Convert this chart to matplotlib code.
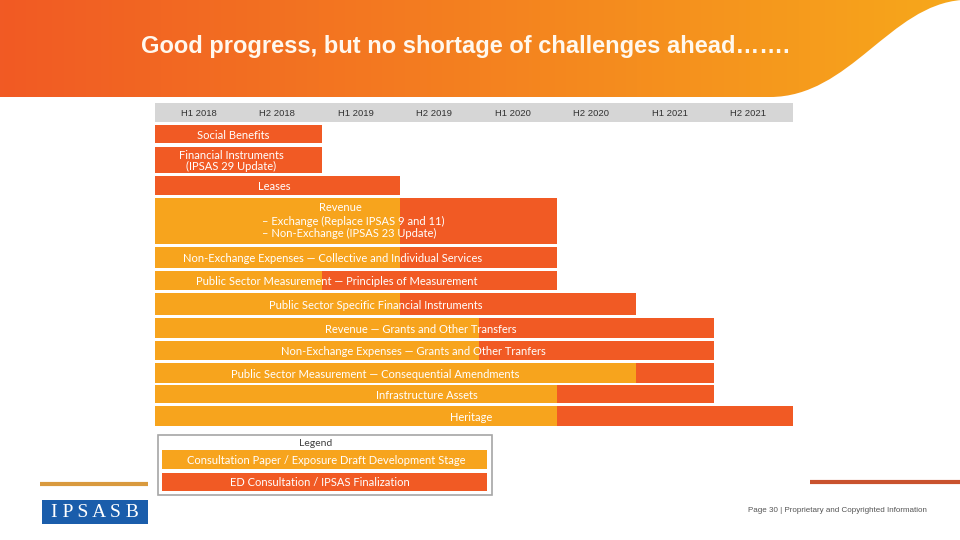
import numpy as np
import matplotlib
matplotlib.use("Agg")
import matplotlib.pyplot as plt
from matplotlib.path import Path
from matplotlib.patches import PathPatch, Rectangle
from matplotlib.colors import LinearSegmentedColormap

# half-year periods shown in the header
periods = ["H1 2018", "H2 2018", "H1 2019", "H2 2019",
           "H1 2020", "H2 2020", "H1 2021", "H2 2021"]

projects = [
    "Social Benefits",
    "Financial Instruments\n(IPSAS 29 Update)",
    "Leases",
    "Revenue",
    "Non-Exchange Expenses \u2014 Collective and Individual Services",
    "Public Sector Measurement \u2014 Principles of Measurement",
    "Public Sector Specific Financial Instruments",
    "Revenue \u2014 Grants and Other Transfers",
    "Non-Exchange Expenses \u2014 Grants and Other Tranfers",
    "Public Sector Measurement \u2014 Consequential Amendments",
    "Infrastructure Assets",
    "Heritage",
]
revenue_sub = "\u2013 Exchange (Replace IPSAS 9 and 11)\n\u2013 Non-Exchange (IPSAS 23 Update)"

# end of consultation paper / ED development stage (in half-years from H1 2018)
cp_end = [0, 0, 0, 3, 3, 2, 3, 4, 4, 6, 5, 5]
# end of ED consultation / IPSAS finalization
final_end = [2, 2, 3, 5, 5, 5, 6, 7, 7, 7, 7, 8]

legend_labels = ["Consultation Paper / Exposure Draft Development Stage",
                 "ED Consultation / IPSAS Finalization"]

# ---- layout / style ----
ORANGE = "#F7A41D"
RED = "#F15A24"
x0 = -0.127  # bars start a little left of the H1 2018 grid line
row_top = [125, 147, 176, 198, 247, 271, 293, 318, 341, 363, 385, 406]
row_bot = [143, 173, 195, 244, 268, 290, 315, 338, 360, 383, 403, 426]
label_x = [0.87, 0.84, 1.39, 2.24, 2.13, 2.19, 2.68, 3.26, 3.17, 2.68, 3.34, 3.90]
bar_font = "Lato"
fs = 8

fig = plt.figure(figsize=(9.6, 5.4), dpi=100)

# background axes in pixel coordinates
bg = fig.add_axes([0, 0, 1, 1])
bg.axis("off")

# gradient title band with curved right edge
verts = [(0, 0), (962, 0), (962, 0), (890, 5), (850, 97), (770, 97), (0, 97), (0, 0)]
codes = [Path.MOVETO, Path.LINETO, Path.LINETO, Path.CURVE4, Path.CURVE4, Path.CURVE4,
         Path.LINETO, Path.CLOSEPOLY]
band = PathPatch(Path(verts, codes), facecolor="none", edgecolor="none")
bg.add_patch(band)
cmap = LinearSegmentedColormap.from_list("band", ["#F15A24", "#F7A81B"])
grad = np.linspace(0, 1, 256).reshape(1, -1)
im = bg.imshow(grad, cmap=cmap, extent=[0, 960, 97, 0], aspect="auto", zorder=0)
im.set_clip_path(band)
bg.set_xlim(0, 960)
bg.set_ylim(540, 0)

bg.text(465, 46, "Good progress, but no shortage of challenges ahead\u2026\u2026.",
        color="#FFF8EE", fontsize=17, fontweight="bold", family="Liberation Sans",
        ha="center", va="center")

# legend box
bg.add_patch(Rectangle((157.5, 435), 334, 60, facecolor="white",
                       edgecolor="#A6A6A6", lw=1.2))
bg.text(316, 444, "Legend", color="#404040", fontsize=7.5, family=bar_font,
        ha="center", va="center")
bg.add_patch(Rectangle((162, 450), 325, 19, facecolor=ORANGE, edgecolor="none"))
bg.add_patch(Rectangle((162, 473), 325, 18, facecolor=RED, edgecolor="none"))
bg.text(326, 460.5, legend_labels[0], color="white", fontsize=fs, family=bar_font,
        ha="center", va="center")
bg.text(320, 483, legend_labels[1], color="white", fontsize=fs, family=bar_font,
        ha="center", va="center")

# footer
bg.plot([40, 148], [484, 484], color="#D99A3E", lw=3, solid_capstyle="butt")
bg.plot([810, 960], [482, 482], color="#C9522E", lw=3, solid_capstyle="butt")
bg.add_patch(Rectangle((42, 500), 106, 24, facecolor="#1A5DAB", edgecolor="none"))
bg.text(95, 512.5, "I P S A S B", color="white", fontsize=14, family="Liberation Serif",
        ha="center", va="center")
bg.text(837.5, 511, "Page 30 | Proprietary and Copyrighted Information",
        color="#555555", fontsize=5.8, family="Liberation Sans",
        ha="center", va="center")

# gantt axes: x in half-years, y in pixels
ax = fig.add_axes([155 / 960, (540 - 430) / 540, 638 / 960, (430 - 101) / 540])
ax.set_xlim(x0, 8)
ax.set_ylim(430, 101)
ax.axis("off")

# header
ax.barh(112.5, 8 - x0, left=x0, height=19, color="#D6D6D6", edgecolor="none")
for i, p in enumerate(periods):
    ax.text(i + 0.43, 113.5, p, color="#333333", fontsize=6.8, family="Liberation Sans",
            ha="center", va="center")

for i, name in enumerate(projects):
    yc = (row_top[i] + row_bot[i]) / 2
    h = row_bot[i] - row_top[i]
    cp_w = cp_end[i] - x0 if cp_end[i] > 0 else 0
    red_left = cp_end[i] if cp_end[i] > 0 else x0
    if cp_w > 0:
        ax.barh(yc, cp_w, left=x0, height=h, color=ORANGE, edgecolor="none")
    ax.barh(yc, final_end[i] - red_left, left=red_left, height=h, color=RED, edgecolor="none")
    if name == "Revenue":
        ax.text(2.24, row_top[i] + 9.5, name, color="white", fontsize=fs, family=bar_font,
                ha="center", va="center")
        ax.text(1.23, row_top[i] + 29.5, revenue_sub, color="white", fontsize=fs,
                family=bar_font, ha="left", va="center", linespacing=1.1)
    else:
        ax.text(label_x[i], yc + 1.2, name, color="white", fontsize=fs, family=bar_font,
                ha="center", va="center", linespacing=1.0)

fig.savefig("out.png", dpi=100)
